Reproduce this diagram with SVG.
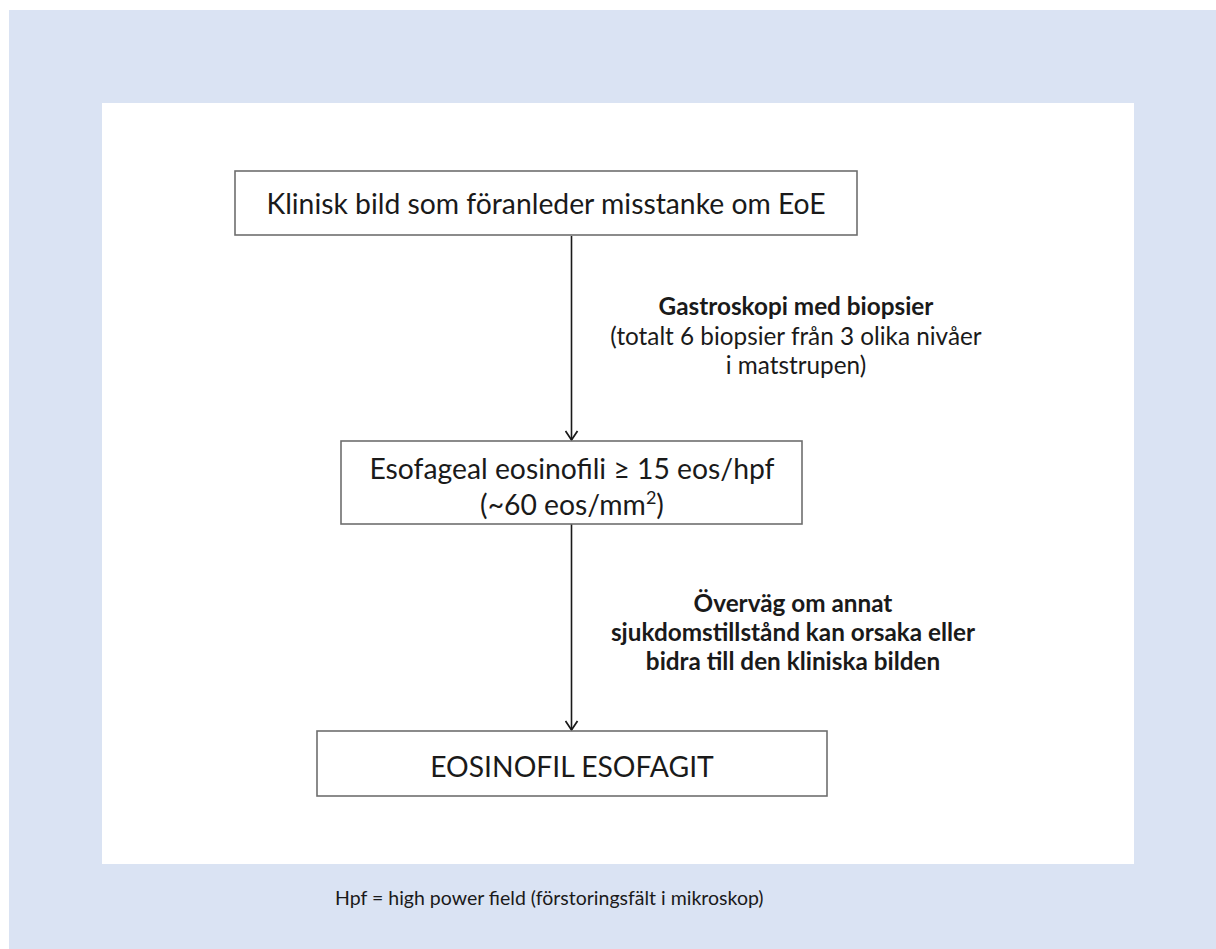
<svg xmlns="http://www.w3.org/2000/svg" width="1216" height="949" viewBox="0 0 1216 949">
<style>
.box{fill:#ffffff;stroke:#6e6e6e;stroke-width:1.6}
.t{font-family:Lato,"Open Sans","Liberation Sans",sans-serif;fill:#1a1a1a}
.big{font-size:28.3px}
.lab{font-size:24.3px}
.b{font-weight:bold}
.edge{stroke:#1a1a1a;stroke-width:1.6;fill:none}
</style>
<defs>
<marker id="arr" markerWidth="12" markerHeight="14" refX="10" refY="7" orient="auto" markerUnits="userSpaceOnUse" viewBox="0 0 12 14">
<path d="M1,1 L10,7 L1,13" fill="none" stroke="#1a1a1a" stroke-width="1.8"/>
</marker>
</defs>
<rect x="0" y="0" width="1216" height="949" fill="#ffffff"/>
<rect x="9" y="10" width="1207" height="939" fill="#dae3f3"/>
<rect x="102" y="103" width="1032" height="761" fill="#ffffff"/>

<g id="connectors">
<line class="edge" x1="571.5" y1="236" x2="571.5" y2="440" marker-end="url(#arr)"/>
<line class="edge" x1="571.5" y1="524" x2="571.5" y2="730" marker-end="url(#arr)"/>
</g>

<g id="n1">
<rect class="box" x="235" y="171" width="622" height="64"/>
<text class="t big" x="546" y="214" text-anchor="middle">Klinisk bild som föranleder misstanke om EoE</text>
</g>

<g id="label1">
<text class="t lab b" x="796" y="315" text-anchor="middle">Gastroskopi med biopsier</text>
<text class="t lab" x="796" y="345" text-anchor="middle">(totalt 6 biopsier från 3 olika nivåer</text>
<text class="t lab" x="796" y="374" text-anchor="middle">i matstrupen)</text>
</g>

<g id="n2">
<rect class="box" x="341" y="441" width="461" height="83"/>
<text class="t big" x="572" y="479" text-anchor="middle">Esofageal eosinofili ≥ 15 eos/hpf</text>
<text class="t big" x="572" y="515" text-anchor="middle">(~60 eos/mm<tspan font-size="18" dy="-11">2</tspan><tspan dy="11">)</tspan></text>
</g>

<g id="label2">
<text class="t lab b" x="793" y="612" text-anchor="middle">Överväg om annat</text>
<text class="t lab b" x="793" y="641" text-anchor="middle">sjukdomstillstånd kan orsaka eller</text>
<text class="t lab b" x="793" y="670" text-anchor="middle">bidra till den kliniska bilden</text>
</g>

<g id="n3">
<rect class="box" x="317" y="731" width="510" height="65"/>
<text class="t big" x="572" y="777" text-anchor="middle">EOSINOFIL ESOFAGIT</text>
</g>

<g id="footnote">
<text class="t" x="335" y="905" font-size="19.5">Hpf = high power field (förstoringsfält i mikroskop)</text>
</g>
</svg>
